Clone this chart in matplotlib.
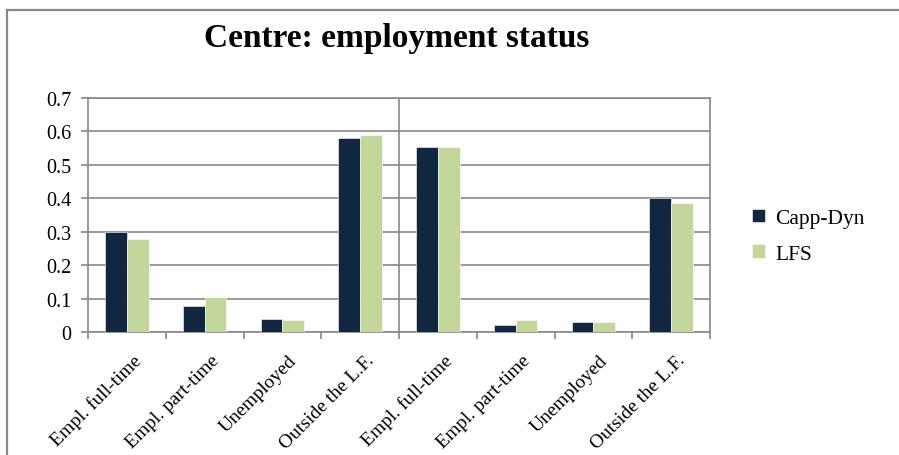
import matplotlib.pyplot as plt
import matplotlib.lines as mlines
import numpy as np

categories = ["Empl. full-time", "Empl. part-time", "Unemployed", "Outside the L.F.",
              "Empl. full-time", "Empl. part-time", "Unemployed", "Outside the L.F."]
capp_dyn = [0.300, 0.077, 0.040, 0.580, 0.552, 0.021, 0.030, 0.401]
lfs = [0.277, 0.106, 0.035, 0.590, 0.552, 0.035, 0.030, 0.386]
yticks = [0, 0.1, 0.2, 0.3, 0.4, 0.5, 0.6, 0.7]
ytick_labels = ["0", "0.1", "0.2", "0.3", "0.4", "0.5", "0.6", "0.7"]

navy = "#12263F"
green = "#C3D69B"
grey = "#888888"
serif = ["Liberation Serif", "DejaVu Serif"]
plt.rcParams['font.family'] = serif

fig = plt.figure(figsize=(8.99, 4.56), dpi=100)
ax = fig.add_axes([88 / 899, 1 - 333 / 456, (710 - 88) / 899, (333 - 99) / 456])

x = np.arange(len(categories))
w = 0.28
ax.bar(x - w / 2, capp_dyn, w, color=navy, edgecolor="white", linewidth=0.4,
       label="Capp-Dyn", zorder=3)
ax.bar(x + w / 2, lfs, w, color=green, edgecolor="white", linewidth=0.4,
       label="LFS", zorder=3)

ax.set_xlim(-0.5, len(categories) - 0.5)
ax.set_ylim(0, 0.7)
ax.set_yticks(yticks)
ax.set_yticklabels(ytick_labels, fontsize=14.5)
ax.yaxis.grid(True, color=grey, linewidth=1.2, zorder=0)
ax.axvline(3.5, color=grey, linewidth=1.2, zorder=1)

# category boundary ticks on the x axis
ax.set_xticks(np.arange(-0.5, len(categories) + 0.5, 1), minor=False)
ax.set_xticklabels([])
ax.set_xticks(x + 0.07, minor=True)
ax.set_xticklabels(categories, minor=True, rotation=45, ha="right",
                   rotation_mode="anchor", fontsize=14)
ax.tick_params(axis="x", which="minor", length=0, pad=14)
ax.tick_params(axis="x", which="major", length=5, color=grey, width=1.2)
ax.tick_params(axis="y", length=5, color=grey, width=1.2, pad=7)

for side in ["left", "bottom", "right", "top"]:
    ax.spines[side].set_color(grey)
    ax.spines[side].set_linewidth(1.2)

fig.text(397 / 899, 1 - 38 / 456, "Centre: employment status", ha="center", va="center",
         fontsize=24, fontweight="bold")

ax.legend(loc="center left", bbox_to_anchor=(1.036, 0.41), frameon=False,
          prop={"size": 15.5}, handlelength=0.6, handleheight=0.6,
          labelspacing=0.75, handletextpad=0.5)

# chart frame (only top and left edges visible)
fig.add_artist(mlines.Line2D([7 / 899, 1], [1 - 11 / 456, 1 - 11 / 456],
                             transform=fig.transFigure, color=grey, linewidth=1.6))
fig.add_artist(mlines.Line2D([7 / 899, 7 / 899], [0, 1 - 11 / 456],
                             transform=fig.transFigure, color=grey, linewidth=1.6))

fig.savefig("out.png", dpi=100)
